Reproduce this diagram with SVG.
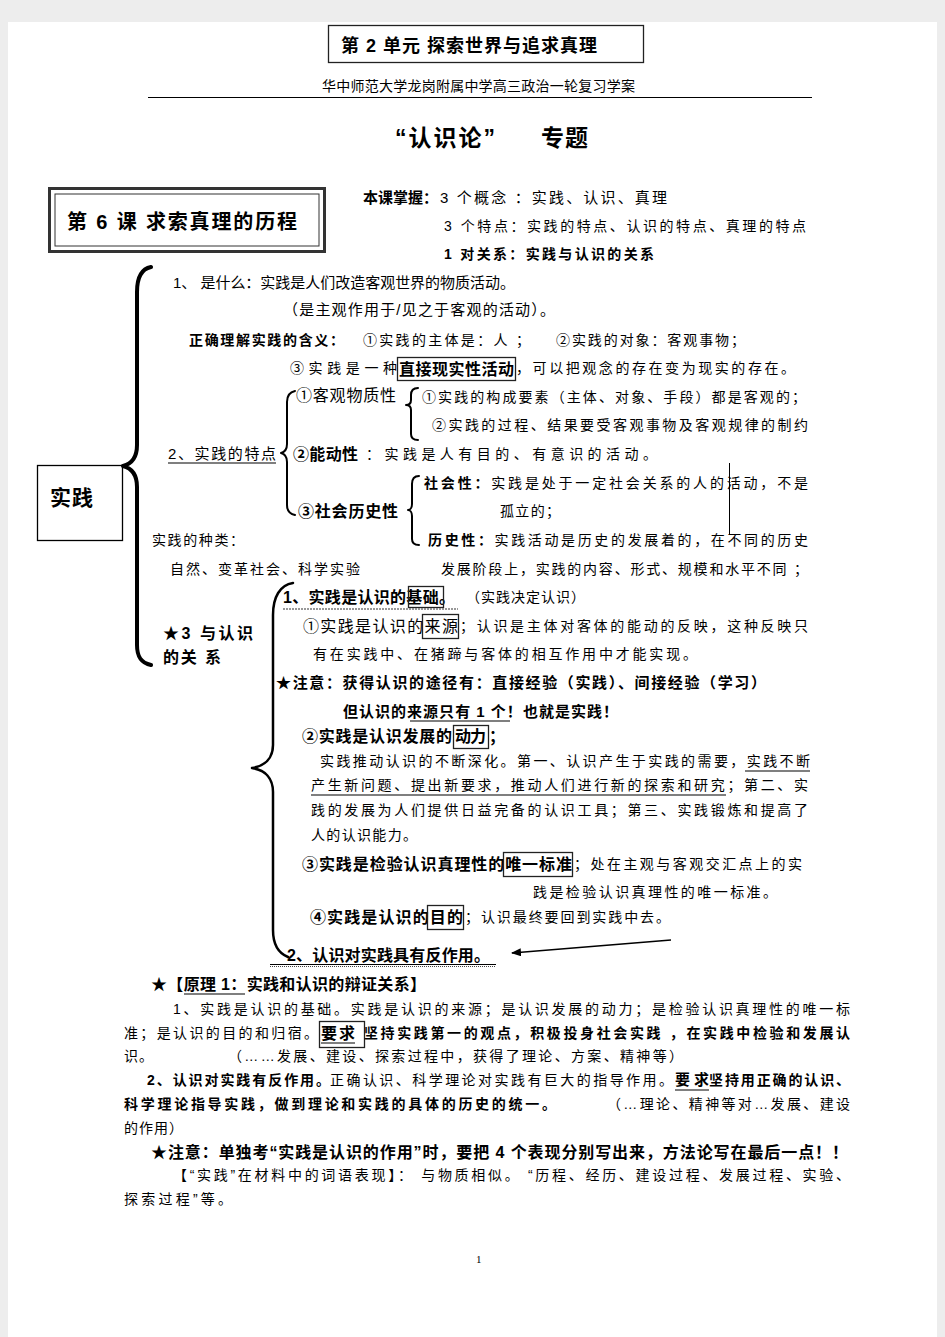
<svg xmlns="http://www.w3.org/2000/svg" width="945" height="1337" viewBox="0 0 945 1337">
<style>
text{font-family:"Liberation Sans","Noto Sans CJK SC",sans-serif;fill:#000;}
.n14{font-size:14px;}
.n15{font-size:15px;}
.n16{font-size:16px;}
.b14{font-size:14px;font-weight:bold;}
.b15{font-size:15px;font-weight:bold;}
.b16{font-size:16px;font-weight:bold;}
.box{fill:none;stroke:#222;stroke-width:1.3;}
.ul{stroke:#000;stroke-width:1.2;}
.br{fill:none;stroke:#000;stroke-linecap:round;stroke-linejoin:round;}
</style>
<defs>
<marker id="ah" markerWidth="10" markerHeight="8" refX="9" refY="4" orient="auto" markerUnits="userSpaceOnUse">
<path d="M0,0 L10,4 L0,8 z" fill="#000"/>
</marker>
</defs>
<rect x="0" y="0" width="945" height="1337" fill="#ededed"/>
<rect x="8" y="22" width="929" height="1315" fill="#fff"/>

<g id="header">
<rect class="box" x="328.5" y="25.5" width="315" height="37"/>
<text class="b16" style="font-size:18px" x="341" y="52" textLength="256" lengthAdjust="spacing">第 2 单元  探索世界与追求真理</text>
<text class="n14" x="322" y="91" textLength="313" lengthAdjust="spacing">华中师范大学龙岗附属中学高三政治一轮复习学案</text>
<line x1="148" y1="97.5" x2="812" y2="97.5" stroke="#000" stroke-width="1"/>
<text class="b16" style="font-size:23px" x="395" y="146" textLength="100" lengthAdjust="spacing">“认识论”</text>
<text class="b16" style="font-size:23px" x="541" y="146" textLength="47" lengthAdjust="spacing">专题</text>
</g>

<g id="lesson">
<rect x="49.5" y="188.5" width="275" height="63" fill="none" stroke="#333" stroke-width="3"/>
<rect x="55" y="194" width="264" height="52" fill="none" stroke="#333" stroke-width="1"/>
<text class="b16" style="font-size:20px" x="67" y="229" textLength="230" lengthAdjust="spacing">第 6 课  求索真理的历程</text>
</g>

<g id="goals">
<text class="b15" x="363" y="203" textLength="75" lengthAdjust="spacing">本课掌握：</text>
<text class="n15" x="440" y="203" textLength="227" lengthAdjust="spacing">3 个概念 ：实践、认识、真理</text>
<text class="n14" x="444" y="231" textLength="362" lengthAdjust="spacing">3 个特点：实践的特点、认识的特点、真理的特点</text>
<text class="b14" x="444" y="259" textLength="210" lengthAdjust="spacing">1 对关系：实践与认识的关系</text>
</g>

<g id="node-shijian">
<rect x="37.5" y="465.5" width="85" height="75" fill="#fff" stroke="#000" stroke-width="1.3"/>
<text class="b16" style="font-size:21px" x="50" y="505" textLength="43" lengthAdjust="spacing">实践</text>
</g>

<g id="connectors">
<path class="br" stroke-width="4" d="M151,267 C141,269 137,278 137,292 L137,445 C137,458 131,464 123,466 C131,468 137,474 137,487 L137,645 C137,657 141,663 151,665"/>
<path class="br" stroke-width="2" d="M295,391 C290,392 287,396 287,402 L287,444 C287,449 285,452 281,453 C285,454 287,457 287,462 L287,505 C287,511 290,514 295,515"/>
<path class="br" stroke-width="2" d="M418,388 C413,388 411,391 411,395 L411,400 C411,403 409,405 406,405 C409,405 411,407 411,410 L411,434 C411,438 413,440 418,440"/>
<path class="br" stroke-width="2" d="M419,476 C414,476 412,479 412,484 L412,504 C412,508 410,510 408,510 C410,510 412,512 412,516 L412,539 C412,543 414,545 419,545"/>
<path class="br" stroke-width="2.5" d="M293,583 C280,585 273,597 273,615 L273,745 C273,758 265,766 252,768 C265,770 273,778 273,792 L273,930 C273,945 278,953 288,957"/>
<line x1="729.5" y1="463" x2="729.5" y2="535" stroke="#000" stroke-width="1"/>
<line x1="671" y1="940" x2="512" y2="953" stroke="#000" stroke-width="1.5" marker-end="url(#ah)"/>
</g>

<g id="what">
<text class="n15" x="173" y="288" textLength="342" lengthAdjust="spacing">1、 是什么：实践是人们改造客观世界的物质活动。</text>
<text class="n15" x="283" y="315" textLength="272" lengthAdjust="spacing">（是主观作用于/见之于客观的活动）。</text>
<text class="b14" x="189" y="345" textLength="155" lengthAdjust="spacing">正确理解实践的含义：</text>
<text class="n14" x="363" y="345" textLength="167" lengthAdjust="spacing">①实践的主体是：人 ；</text>
<text class="n14" x="556" y="345" textLength="189" lengthAdjust="spacing">②实践的对象：客观事物；</text>
<text class="n14" x="290" y="373" textLength="107" lengthAdjust="spacing">③实践是一种</text>
<rect class="box" x="397.5" y="357.5" width="118" height="23"/>
<text class="b16" x="399" y="375" textLength="115" lengthAdjust="spacing">直接现实性活动</text>
<text class="n14" x="516" y="373" textLength="279" lengthAdjust="spacing">，可以把观念的存在变为现实的存在。</text>
</g>

<g id="features">
<text class="n15" x="168" y="459" textLength="108" lengthAdjust="spacing">2、实践的特点</text>
<line class="ul" x1="168" y1="463" x2="276" y2="463"/>
<text class="n16" x="296" y="401" textLength="100" lengthAdjust="spacing">①客观物质性</text>
<text class="n14" x="422" y="402" textLength="384" lengthAdjust="spacing">①实践的构成要素（主体、对象、手段）都是客观的；</text>
<text class="n14" x="432" y="430" textLength="376" lengthAdjust="spacing">②实践的过程、结果要受客观事物及客观规律的制约</text>
<text class="b16" x="293" y="460" textLength="65" lengthAdjust="spacing">②能动性</text>
<text class="n14" x="366" y="459" textLength="291" lengthAdjust="spacing">：实践是人有目的、有意识的活动。</text>
<text class="b16" x="298" y="517" textLength="100" lengthAdjust="spacing">③社会历史性</text>
<text class="n14" x="424" y="488" textLength="384" lengthAdjust="spacing"><tspan font-weight="bold">社会性：</tspan>实践是处于一定社会关系的人的活动，不是</text>
<text class="n14" x="500" y="516" textLength="60" lengthAdjust="spacing">孤立的；</text>
<text class="n14" x="428" y="545" textLength="380" lengthAdjust="spacing"><tspan font-weight="bold">历史性：</tspan>实践活动是历史的发展着的，在不同的历史</text>
<text class="n14" x="441" y="574" textLength="367" lengthAdjust="spacing">发展阶段上，实践的内容、形式、规模和水平不同 ；</text>
<text class="n14" x="152" y="545" textLength="92" lengthAdjust="spacing">实践的种类：</text>
<text class="n14" x="170" y="574" textLength="190" lengthAdjust="spacing">自然、变革社会、科学实验</text>
</g>

<g id="relation">
<text class="b16" x="163" y="639" textLength="90" lengthAdjust="spacing">★3 与认识</text>
<text class="b16" x="163" y="663" textLength="58" lengthAdjust="spacing">的关 系</text>
<text class="b16" x="283" y="603" textLength="172" lengthAdjust="spacing">1、实践是认识的基础。</text>
<rect class="box" x="408.5" y="586.5" width="35" height="21"/>
<line x1="283" y1="609" x2="458" y2="609" stroke="#777" stroke-width="1.5" stroke-dasharray="2,1"/>
<text class="n14" x="466" y="602" textLength="119" lengthAdjust="spacing">（实践决定认识）</text>
<text class="n16" x="303" y="632" textLength="155" lengthAdjust="spacing">①实践是认识的来源</text>
<rect class="box" x="422.5" y="614.5" width="36" height="24"/>
<text class="n14" x="460" y="631" textLength="348" lengthAdjust="spacing">；认识是主体对客体的能动的反映，这种反映只</text>
<text class="n14" x="313" y="659" textLength="384" lengthAdjust="spacing">有在实践中、在猪蹄与客体的相互作用中才能实现。</text>
<text class="b15" x="276" y="688" textLength="490" lengthAdjust="spacing">★注意：获得认识的途径有：直接经验（实践）、间接经验（学习）</text>
<text class="b15" x="343" y="717" textLength="275" lengthAdjust="spacing">但认识的来源只有 1 个！也就是实践！</text>
<line class="ul" x1="410" y1="721" x2="510" y2="721"/>
<text class="b16" x="302" y="742" textLength="150" lengthAdjust="spacing">②实践是认识发展的</text>
<text class="b16" x="455" y="742" textLength="31" lengthAdjust="spacing">动力</text>
<text class="b16" x="489" y="742">；</text>
<rect class="box" x="453.5" y="725.5" width="35" height="23"/>
<text class="n14" x="320" y="766" textLength="490" lengthAdjust="spacing">实践推动认识的不断深化。第一、认识产生于实践的需要，实践不断</text>
<line class="ul" x1="745" y1="771" x2="810" y2="771"/>
<text class="n14" x="311" y="790" textLength="497" lengthAdjust="spacing">产生新问题、提出新要求，推动人们进行新的探索和研究；第二、实</text>
<line class="ul" x1="311" y1="795" x2="726" y2="795"/>
<text class="n14" x="311" y="815" textLength="497" lengthAdjust="spacing">践的发展为人们提供日益完备的认识工具；第三、实践锻炼和提高了</text>
<text class="n14" x="311" y="840" textLength="106" lengthAdjust="spacing">人的认识能力。</text>
<text class="b16" x="302" y="870" textLength="270" lengthAdjust="spacing">③实践是检验认识真理性的唯一标准</text>
<rect class="box" x="503.5" y="852.5" width="69" height="24"/>
<text class="n14" x="574" y="869" textLength="228" lengthAdjust="spacing">；处在主观与客观交汇点上的实</text>
<text class="n14" x="533" y="897" textLength="244" lengthAdjust="spacing">践是检验认识真理性的唯一标准。</text>
<text class="b16" x="310" y="923" textLength="153" lengthAdjust="spacing">④实践是认识的目的</text>
<rect class="box" x="427.5" y="905.5" width="36" height="24"/>
<text class="n14" x="465" y="922" textLength="205" lengthAdjust="spacing">；认识最终要回到实践中去。</text>
<text class="b16" x="287" y="961" textLength="203" lengthAdjust="spacing">2、认识对实践具有反作用。</text>
<line x1="270" y1="964.5" x2="496" y2="964.5" stroke="#000" stroke-width="1"/>
<line x1="270" y1="966.5" x2="496" y2="966.5" stroke="#444" stroke-width="1" stroke-dasharray="1,1"/>
</g>

<g id="principle">
<text class="b16" x="151" y="990" textLength="275" lengthAdjust="spacing">★【原理 1：实践和认识的辩证关系】</text>
<line class="ul" x1="184" y1="994" x2="245" y2="994"/>
<text class="n14" x="173" y="1014" textLength="677" lengthAdjust="spacing">1、实践是认识的基础。实践是认识的来源；是认识发展的动力；是检验认识真理性的唯一标</text>
<text class="n14" x="124" y="1038" textLength="194" lengthAdjust="spacing">准；是认识的目的和归宿。</text>
<rect class="box" x="319.5" y="1021.5" width="45" height="26"/>
<text class="b16" x="321" y="1039" textLength="34" lengthAdjust="spacing">要求</text>
<line class="ul" x1="321" y1="1043" x2="355" y2="1043"/>
<text class="b14" x="364" y="1038" textLength="486" lengthAdjust="spacing">坚持实践第一的观点，积极投身社会实践 ，在实践中检验和发展认</text>
<text class="n14" x="124" y="1061" textLength="29" lengthAdjust="spacing">识。</text>
<text class="n14" x="228" y="1061" textLength="455" lengthAdjust="spacing">（……发展、建设、探索过程中，获得了理论、方案、精神等）</text>
<text class="b14" x="147" y="1085" textLength="183" lengthAdjust="spacing">2、认识对实践有反作用。</text>
<text class="n14" x="330" y="1085" textLength="343" lengthAdjust="spacing">正确认识、科学理论对实践有巨大的指导作用。</text>
<text class="b15" x="675" y="1085" textLength="34" lengthAdjust="spacing">要求</text>
<line class="ul" x1="675" y1="1090" x2="709" y2="1090"/>
<text class="b14" x="709" y="1085" textLength="141" lengthAdjust="spacing">坚持用正确的认识、</text>
<text class="b14" x="124" y="1109" textLength="432" lengthAdjust="spacing">科学理论指导实践，做到理论和实践的具体的历史的统一。</text>
<text class="n14" x="607" y="1109" textLength="243" lengthAdjust="spacing">（…理论、精神等对…发展、建设</text>
<text class="n14" x="124" y="1133" textLength="59" lengthAdjust="spacing">的作用）</text>
<text class="b16" x="151" y="1158" textLength="697" lengthAdjust="spacing">★注意：单独考“实践是认识的作用”时，要把 4 个表现分别写出来，方法论写在最后一点！！</text>
<text class="n14" x="173" y="1180" textLength="677" lengthAdjust="spacing">【“实践”在材料中的词语表现】：  与物质相似。 “历程、经历、建设过程、发展过程、实验、</text>
<text class="n14" x="124" y="1204" textLength="108" lengthAdjust="spacing">探索过程”等。</text>
</g>

<g id="footer">
<text x="476" y="1263" style="font-family:'Liberation Serif',serif;font-size:11px">1</text>
</g>
</svg>
